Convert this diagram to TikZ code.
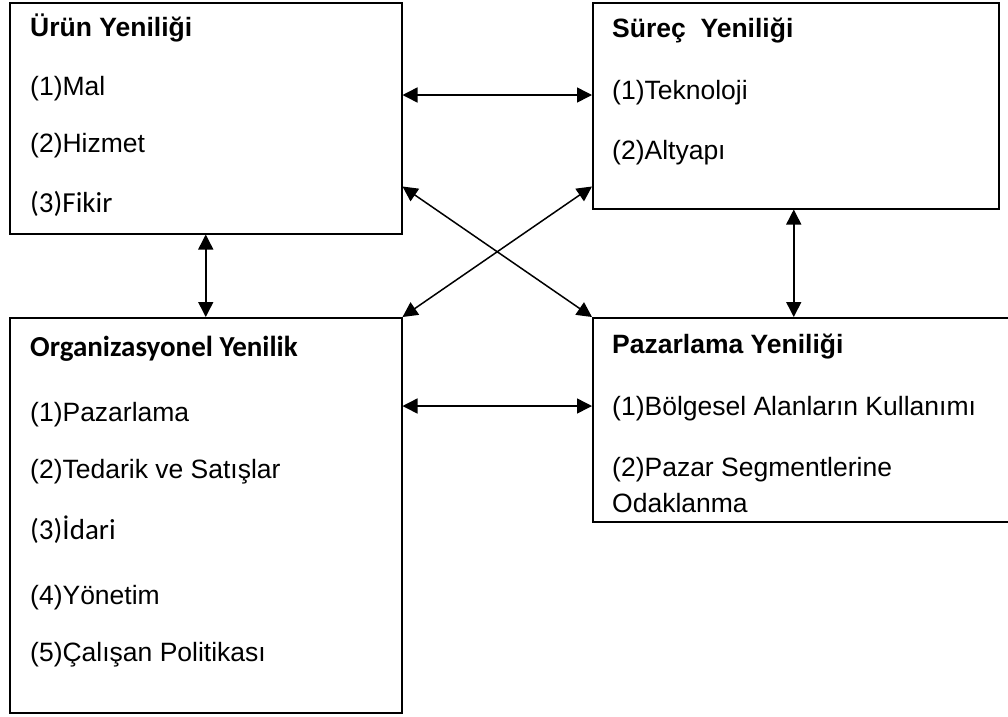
\documentclass[tikz,border=0pt]{standalone}
\usepackage{fontspec}
\setmainfont{Liberation Sans}
\newfontfamily\calfont{Carlito}
\usetikzlibrary{arrows.meta}
\tikzset{
  box/.style={draw=black, line width=1.5pt, rectangle, anchor=north west, inner sep=0pt},
  txt/.style={anchor=base west, inner sep=0pt, font=\fontsize{26.5}{30}\selectfont},
  btxt/.style={anchor=base west, inner sep=0pt, font=\bfseries\fontsize{26.5}{30}\selectfont},
  ctxt/.style={anchor=base west, inner sep=0pt, font=\calfont\fontsize{29}{33}\selectfont},
  cbtxt/.style={anchor=base west, inner sep=0pt, font=\calfont\bfseries\fontsize{29}{33}\selectfont},
  link/.style={line width=1.5pt, {Triangle[length=15pt,width=15pt]}-{Triangle[length=15pt,width=15pt]}}
}
\begin{document}
\begin{tikzpicture}[x=1pt, y=-1pt]
\useasboundingbox (0,0) rectangle (1008,716);
\fill[white] (0,0) rectangle (1008,716);

% the four innovation boxes
\node[box, minimum width=392pt, minimum height=231pt] (A) at (9,2) {};
\node[box, minimum width=406pt, minimum height=206pt] (B) at (592,2) {};
\node[box, minimum width=392pt, minimum height=395pt] (C) at (9,317) {};
\node[box, minimum width=425pt, minimum height=204pt] (D) at (592,317) {};

% product innovation
\node[btxt] (a0) at (30,36) {Ürün Yeniliği};
\node[txt] (a1) at (30,95) {(1)Mal};
\node[txt] (a2) at (30,152) {(2)Hizmet};
\node[ctxt] (a3) at (30,212) {(3)Fikir};

% process innovation
\node[btxt] (b0) at (612,37) {Süreç\ \ Yeniliği};
\node[txt] (b1) at (612,99) {(1)Teknoloji};
\node[txt] (b2) at (612,159) {(2)Altyapı};

% organisational innovation
\node[cbtxt] (c0) at (30,356) {Organizasyonel Yenilik};
\node[txt] (c1) at (30,421) {(1)Pazarlama};
\node[txt] (c2) at (30,478) {(2)Tedarik ve Satışlar};
\node[ctxt] (c3) at (30,539) {(3)İdari};
\node[txt] (c4) at (30,604) {(4)Yönetim};
\node[txt] (c5) at (30,661) {(5)Çalışan Politikası};

% marketing innovation
\node[btxt] (d0) at (612,353) {Pazarlama Yeniliği};
\node[txt] (d1) at (612,415) {(1)Bölgesel Alanların Kullanımı};
\node[txt] (d2) at (612,476) {(2)Pazar Segmentlerine};
\node[txt] (d3) at (612,512) {Odaklanma};

% two-way links between the boxes
\draw[link] ([yshift=-93pt]A.north east) -- ([yshift=-93pt]B.north west);
\draw[link] ([yshift=-89pt]C.north east) -- ([yshift=-89pt]D.north west);
\draw[link] (A.south) -- (C.north);
\draw[link] ([xshift=-2pt]B.south) -- ([xshift=-2pt]B.south |- D.north);
\draw[link] ([yshift=48pt]A.south east) -- (D.north west);
\draw[link] ([yshift=23pt]B.south west) -- (C.north east);
\end{tikzpicture}
\end{document}
